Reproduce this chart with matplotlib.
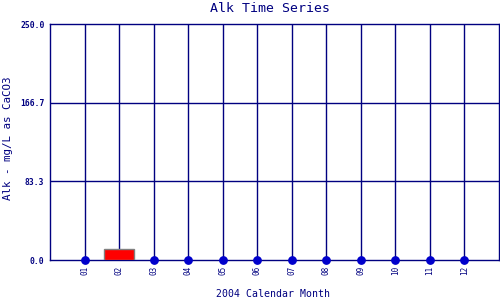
import matplotlib
matplotlib.use("Agg")
import matplotlib.pyplot as plt
import numpy as np

# monthly values, 2004
months = ["01", "02", "03", "04", "05", "06", "07", "08", "09", "10", "11", "12"]
alk_values = [0, 11.3, 0, 0, 0, 0, 0, 0, 0, 0, 0, 0]
bar_months = ["02"]
y_ticks = [0.0, 83.3, 166.7, 250.0]

navy = "#000080"
plt.rcParams['font.family'] = ['DejaVu Sans Mono']

fig = plt.figure(figsize=(5, 3), dpi=100)
ax = fig.add_axes([0.1, 0.1333, 0.898, 0.7867])

x = np.arange(1, len(months) + 1)

# vertical grid at each month, horizontal at y ticks
for xi in x:
    ax.axvline(xi, color=navy, lw=1, zorder=1)
for yt in y_ticks[1:-1]:
    ax.axhline(yt, color=navy, lw=1, zorder=1)

bar_x = [x[months.index(m)] for m in bar_months]
bar_y = [alk_values[months.index(m)] for m in bar_months]
ax.bar(bar_x, bar_y, width=0.87, color="red", edgecolor="gray", lw=1, zorder=3)

dot_x = [xi for xi, m in zip(x, months) if m not in bar_months]
dot_y = [v for v, m in zip(alk_values, months) if m not in bar_months]
ax.scatter(dot_x, dot_y, s=28, color="#0000CC", zorder=4, clip_on=False)

ax.set_xlim(0, 13)
ax.set_ylim(0, 250)
ax.set_xticks(x)
ax.set_xticklabels(months, rotation=90, fontsize=5.5, color=navy)
ax.set_yticks(y_ticks)
ax.set_yticklabels(["%.1f" % v for v in y_ticks], fontsize=5.8, color=navy, fontweight="bold")
ax.tick_params(length=0, pad=4)
for s in ax.spines.values():
    s.set_color(navy)
    s.set_linewidth(1)

fig.text(0.54, 1 - 8 / 300, "Alk Time Series", fontsize=9.5, color=navy, ha="center", va="center")
fig.text(0.546, 1 - 294 / 300, "2004 Calendar Month", fontsize=7.1, color=navy, ha="center", va="center")
fig.text(8 / 500, 1 - 138 / 300, "Alk - mg/L as CaCO3", fontsize=7.8, color=navy,
         ha="center", va="center", rotation=90)

fig.savefig("out.png", dpi=100)
